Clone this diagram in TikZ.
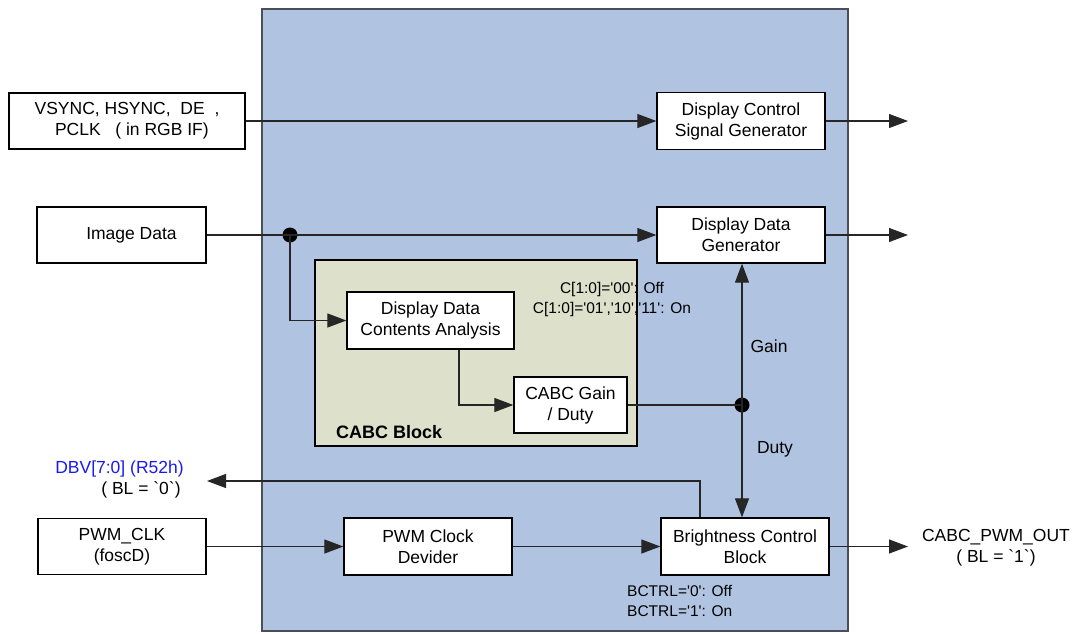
\documentclass[tikz,border=0pt]{standalone}
\usepackage{fontspec}
\setmainfont{Liberation Sans}
\newfontfamily\af{Liberation Sans}
\usetikzlibrary{arrows.meta}
\definecolor{bluebg}{HTML}{B0C4E2}
\definecolor{greenbg}{HTML}{DDE0CB}
\definecolor{frame}{HTML}{4A4F58}
\definecolor{dbvblue}{HTML}{1A1AF0}
\tikzset{
  blk/.style={draw=black, line width=1.3pt, fill=white, inner sep=0pt, align=center,
    font=\af\fontsize{17.5}{21}\selectfont},
  wire/.style={draw=black!85, line width=1.1pt},
  arr/.style={wire, -{Triangle[length=19pt,width=14pt]}},
  dotc/.style={circle, fill=black, inner sep=0pt, minimum size=15pt},
  lbl/.style={inner sep=0pt, font=\af\fontsize{17.5}{21}\selectfont},
  small/.style={inner sep=0pt, font=\af\fontsize{15.5}{20}\selectfont},
}
\begin{document}
\begin{tikzpicture}[x=1pt, y=-1pt]
\useasboundingbox (0,0) rectangle (1077,633);
% outer block
\node[draw=frame, line width=1.3pt, fill=bluebg, minimum width=586pt, minimum height=622pt, inner sep=0pt] (chip) at (555,320) {};
% CABC block
\node[draw=black, line width=2pt, fill=greenbg, minimum width=322pt, minimum height=186pt, inner sep=0pt] (cabc) at (476,353) {};
\node[inner sep=0pt, anchor=west, font=\af\fontsize{18}{21}\selectfont\bfseries] (cabclbl) at (336,432) {CABC Block};

% boxes
\node[blk, minimum width=236pt, minimum height=56pt] (vs) at (127,121) {VSYNC, HSYNC,\ \ DE\ \ ,\\\ \ PCLK\ \ \ ( in RGB IF)};
\node[blk, minimum width=168pt, minimum height=57pt] (dcsg) at (741,121) {Display Control\\Signal Generator};
\node[blk, minimum width=169pt, minimum height=56pt] (img) at (121.5,235) {\hspace*{20pt}Image Data};
\node[blk, minimum width=168pt, minimum height=56pt] (ddg) at (741,235) {Display Data\\Generator};
\node[blk, minimum width=167pt, minimum height=57pt] (ddca) at (430.5,320.5) {Display Data\\Contents Analysis};
\node[blk, minimum width=113pt, minimum height=56pt] (gain) at (570.5,405) {CABC Gain\\/ Duty};
\node[blk, minimum width=168pt, minimum height=56pt] (pwmclk) at (122,546.5) {PWM\_CLK\\(foscD)};
\node[blk, minimum width=168pt, minimum height=57pt] (pcd) at (428,546.5) {PWM Clock\\Devider};
\node[blk, minimum width=168pt, minimum height=57pt] (bcb) at (745,546.5) {Brightness Control\\Block};

% junctions and free ends
\node[dotc] (j1) at (290,235) {};
\node[dotc] (j2) at (742,405) {};
\coordinate (out1) at (908,121);
\coordinate (out2) at (908,235);
\coordinate (out3) at (908,546.5);
\coordinate (dbvend) at (207,481);

% labels
\node[small, align=center] (cset) at (612,299) {C[1:0]='00': Off\\C[1:0]='01','10','11': On};
\node[lbl] (gainlbl) at (769,346) {Gain};
\node[lbl] (dutylbl) at (775,449) {Duty};
\node[lbl, text=dbvblue] (dbv1) at (119.5,469) {DBV[7:0] (R52h)};
\node[lbl] (dbv2) at (141,490) {( BL = `0`)};
\node[lbl, align=center] (pwmout) at (996,547.5) {CABC\_PWM\_OUT\\( BL = `1`)};
\node[small, align=left, anchor=west] (bctrl) at (627,600.5) {BCTRL='0': Off\\BCTRL='1': On};

% connectors
\draw[arr] (vs.east) -- (dcsg.west);
\draw[arr] (dcsg.east) -- (out1);
\draw[wire] (img.east) -- (j1.center);
\draw[arr] (j1.center) -- (ddg.west);
\draw[arr] (ddg.east) -- (out2);
\draw[arr] (j1.center) |- (ddca.west);
\draw[arr] ([xshift=28.5pt]ddca.south) |- (gain.west);
\draw[wire] (gain.east) -- (j2.center);
\draw[arr] (j2.center) -- (j2.center |- ddg.south);
\draw[arr] (j2.center) -- (j2.center |- bcb.north);
\draw[arr] ([xshift=-45pt]bcb.north) |- (dbvend);
\draw[arr] (pwmclk.east) -- (pcd.west);
\draw[arr] (pcd.east) -- (bcb.west);
\draw[arr] (bcb.east) -- (out3);
\end{tikzpicture}
\end{document}
